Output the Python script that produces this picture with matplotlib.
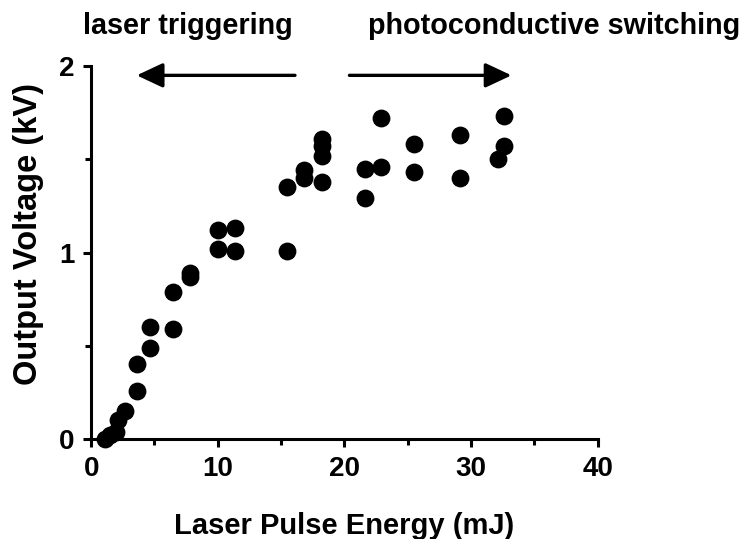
import matplotlib
matplotlib.use("Agg")
import matplotlib.pyplot as plt

# data (energy in mJ, voltage in kV)
energy = [1.1, 1.5, 2.0, 2.1, 2.7, 3.65, 3.65, 4.65, 4.65, 6.45, 6.45,
          7.8, 7.8, 10.0, 10.0, 11.4, 11.4, 15.5, 15.5, 16.8, 16.8,
          18.2, 18.2, 18.2, 18.2, 21.6, 21.6, 22.9, 22.9, 25.5, 25.5,
          29.1, 29.1, 32.6, 32.6, 32.1]
voltage = [0.0, 0.02, 0.04, 0.10, 0.15, 0.26, 0.40, 0.49, 0.60, 0.59, 0.79,
           0.87, 0.89, 1.02, 1.12, 1.01, 1.13, 1.01, 1.35, 1.40, 1.44,
           1.38, 1.52, 1.57, 1.61, 1.29, 1.45, 1.46, 1.72, 1.43, 1.58,
           1.40, 1.63, 1.57, 1.73, 1.50]

xticks = [0, 10, 20, 30, 40]
yticks = [0, 1, 2]

plt.rcParams['font.family'] = ['Liberation Sans', 'DejaVu Sans']
plt.rcParams['font.weight'] = 'bold'

fig = plt.figure(figsize=(7.47, 5.39), dpi=100)
ax = fig.add_axes([0.122, 0.1855, 0.678, 0.692])

ax.scatter(energy, voltage, s=140, color='black', clip_on=False, zorder=3)

ax.set_xlim(0, 40)
ax.set_ylim(0, 2)
ax.set_xticks(xticks)
ax.set_yticks(yticks)
ax.set_xticks([5, 15, 25, 35], minor=True)
ax.set_yticks([0.5, 1.5], minor=True)
ax.tick_params(which='major', direction='out', length=6, width=2.2,
               labelsize=20, pad=6)
ax.tick_params(which='minor', direction='out', length=4, width=2.2)
for lab in ax.get_xticklabels() + ax.get_yticklabels():
    lab.set_fontweight('bold')

for side in ['top', 'right']:
    ax.spines[side].set_visible(False)
for side in ['left', 'bottom']:
    ax.spines[side].set_linewidth(2.2)

ax.set_xlabel('Laser Pulse Energy (mJ)', fontsize=21, fontweight='bold')
ax.set_ylabel('Output Voltage (kV)', fontsize=23.5, fontweight='bold')
ax.xaxis.set_label_coords(0.5, -0.195)
ax.yaxis.set_label_coords(-0.093, 0.55)

# regime arrows
arrow = dict(arrowstyle='-|>,head_length=1.6,head_width=0.75',
             lw=2.4, color='black', shrinkA=0, shrinkB=0)
ax.annotate('', xy=(3.6, 1.95), xytext=(16.1, 1.95), annotation_clip=False,
            arrowprops=arrow)
ax.annotate('', xy=(33.2, 1.95), xytext=(20.4, 1.95), annotation_clip=False,
            arrowprops=arrow)

fig.text(0.251, 1 - 34 / 539, 'laser triggering', ha='center', va='baseline',
         fontsize=20.7, fontweight='bold')
fig.text(0.742, 1 - 34 / 539, 'photoconductive switching', ha='center',
         va='baseline', fontsize=20.7, fontweight='bold')

fig.savefig('out.png', dpi=100)
